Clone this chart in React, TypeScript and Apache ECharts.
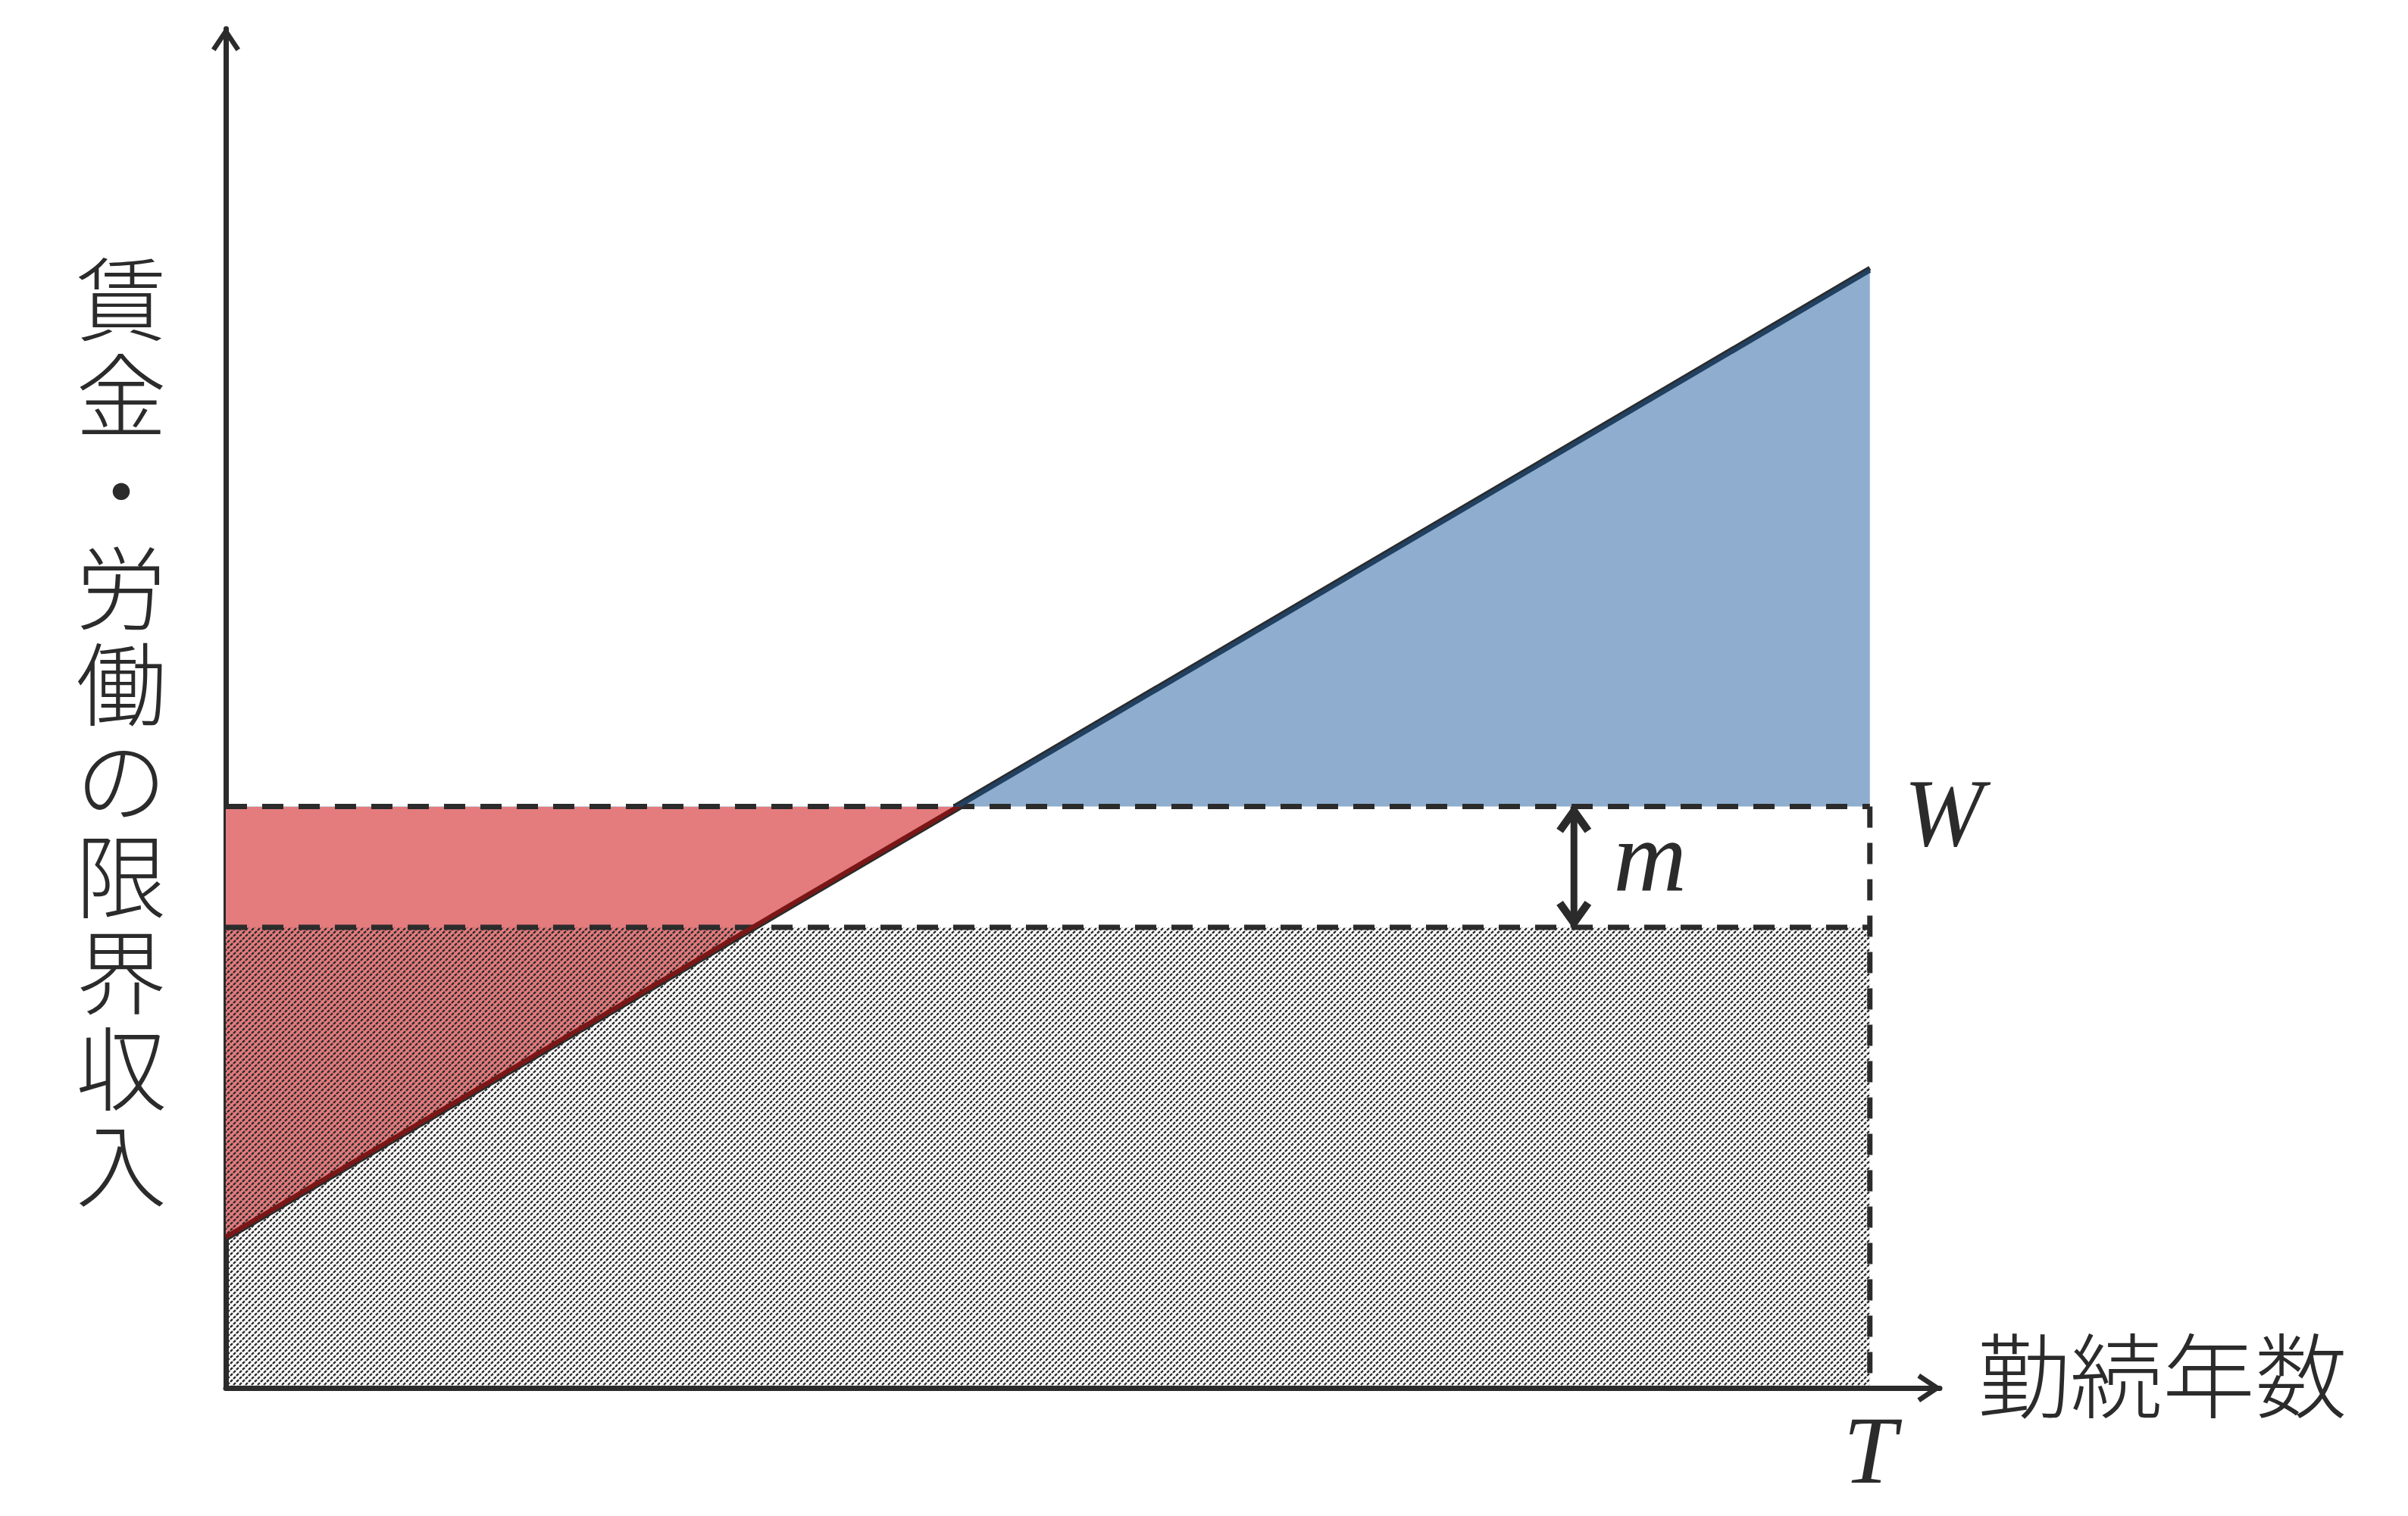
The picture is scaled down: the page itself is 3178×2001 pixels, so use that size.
import React, { useEffect, useRef } from 'react';
import * as echarts from 'echarts';

// ---- data ----
const Y_TITLE_CHARS = ['賃', '金', '・', '労', '働', 'の', '限', '界', '収', '入'];
const X_TITLE = '勤続年数';
const LABEL_T = 'T';
const LABEL_W = 'W';
const LABEL_M = 'm';
const T = 40; // tenure end
const X_MAX = 41.7;
const Y_MAX = 180;
const WAGE = 77; // W
const MARGIN = 16; // m
const MRP_X = [0, T];
const MRP_Y = [20, 148];
const M_ARROW_X = 32.8;

// ---- styles ----
const INK = '#2b2b2b';
const RED_FILL = '#E47B7D';
const BLUE_FILL = '#8EADCF';
const RED_EDGE = '#7A1517';
const BLUE_EDGE = '#203F5F';
const CLEAR = 'rgba(0,0,0,0)';
const CJK = '"Noto Sans CJK JP", "Noto Sans CJK SC", sans-serif';
const SERIF = '"Liberation Serif", "DejaVu Serif", serif';
const CHEVRON = 'path://M20,0L40,30L34.2,33.9L20,12.6L5.8,33.9L0,30Z';
const HEAVY_CHEVRON = 'path://M20,0L40,28L32.5,33L20,15.5L7.5,33L0,28Z';
const HATCH_TILE = 8;

function makeHatch(): string {
  const s = HATCH_TILE;
  const c = document.createElement('canvas');
  c.width = s;
  c.height = s;
  const ctx = c.getContext('2d')!;
  ctx.strokeStyle = INK;
  ctx.lineWidth = 2.4;
  const d = Math.SQRT2 * s;
  ctx.setLineDash([d * 0.37, d * 0.13]);
  for (const off of [-s, 0, s]) {
    ctx.beginPath();
    ctx.moveTo(off - s, 2 * s);
    ctx.lineTo(off + 2 * s, -s);
    ctx.stroke();
  }
  return c.toDataURL();
}

function splitPieces(below: string, above: string) {
  return [
    { gte: 0, lt: WAGE, color: below },
    { gte: WAGE, lte: Y_MAX, color: above },
  ];
}

function buildOption(): any {
  const hatch = makeHatch();
  const mrpData = MRP_X.map((x, i) => [x, MRP_Y[i]]);
  const lower = WAGE - MARGIN;
  const dashed = { color: INK, width: 7, type: [28, 20] as any };
  const axisLine = {
    show: true,
    onZero: true,
    lineStyle: { color: INK, width: 7 },
    symbol: ['none', CHEVRON],
    symbolSize: [38, 33],
    symbolOffset: [0, -13.5],
  };
  const cjkChar = { fontFamily: CJK, fontWeight: 300, color: INK };
  return {
    animation: false,
    backgroundColor: '#ffffff',
    grid: { left: 298, right: 618, top: 38, bottom: 169, containLabel: false, outerBoundsMode: 'none' },
    xAxis: {
      type: 'value',
      min: 0,
      max: X_MAX,
      interval: T,
      axisLine,
      axisTick: { show: false },
      splitLine: { show: false },
      axisLabel: {
        formatter: (v: number) => (Math.abs(v - T) < 1e-6 ? LABEL_T : ''),
        fontFamily: SERIF,
        fontStyle: 'italic',
        fontSize: 126,
        color: INK,
        margin: 19,
      },
      name: `{c|${X_TITLE}}\n{s|\u3000}`,
      nameLocation: 'end',
      nameGap: 50,
      nameTextStyle: {
        color: INK,
        rich: {
          c: { ...cjkChar, fontSize: 122, lineHeight: 122 },
          s: { fontSize: 10, lineHeight: 48 },
        },
      },
    },
    yAxis: {
      type: 'value',
      min: 0,
      max: Y_MAX,
      interval: 20,
      axisLine,
      axisTick: { show: false },
      splitLine: { show: false },
      axisLabel: { show: false },
      name: ['{s|\u3000}', ...Y_TITLE_CHARS.map((ch) => `{c|${ch}}`)].join('\n'),
      nameLocation: 'middle',
      nameRotate: 0,
      nameGap: 78,
      nameTextStyle: {
        color: INK,
        rich: {
          c: { ...cjkChar, fontSize: 120, lineHeight: 127 },
          s: { fontSize: 10, lineHeight: 50 },
        },
      },
    },
    visualMap: [
      { type: 'piecewise', show: false, seriesIndex: 0, dimension: 1, pieces: splitPieces(RED_FILL, BLUE_FILL) },
      { type: 'piecewise', show: false, seriesIndex: 4, dimension: 1, pieces: splitPieces(RED_EDGE, CLEAR) },
      { type: 'piecewise', show: false, seriesIndex: 5, dimension: 1, pieces: splitPieces(CLEAR, BLUE_EDGE) },
    ],
    series: [
      {
        type: 'line', name: 'mrpArea', data: mrpData, symbol: 'none', silent: true, z: 1,
        lineStyle: { opacity: 0, width: 0 },
        areaStyle: { origin: WAGE, opacity: 1 },
      },
      {
        type: 'line', name: 'hatch', data: [[0, lower], [T, lower]], symbol: 'none', silent: true, z: 2,
        lineStyle: dashed,
        areaStyle: {
          color: { image: hatch, repeat: 'repeat', imageWidth: HATCH_TILE, imageHeight: HATCH_TILE },
          opacity: 1,
          origin: 'start',
        },
      },
      {
        type: 'line', name: 'wage', data: [[0, WAGE], [T, WAGE]], symbol: 'none', silent: true, z: 3,
        lineStyle: dashed,
        endLabel: {
          show: true,
          formatter: LABEL_W,
          distance: 45,
          fontFamily: SERIF,
          fontStyle: 'italic',
          fontSize: 126,
          color: INK,
          offset: [0, 9],
        },
      },
      {
        type: 'line', name: 'tLine', data: [[T, WAGE], [T, 0]], symbol: 'none', silent: true, z: 3,
        lineStyle: dashed,
      },
      {
        type: 'line', name: 'edgeRed', data: mrpData, symbol: 'none', silent: true, z: 4,
        lineStyle: { width: 6, shadowColor: INK, shadowBlur: 0, shadowOffsetY: 3 },
      },
      {
        type: 'line', name: 'edgeBlue', data: mrpData, symbol: 'none', silent: true, z: 4,
        lineStyle: { width: 6, shadowColor: INK, shadowBlur: 0, shadowOffsetY: -3 },
      },
      {
        type: 'line', name: 'mArrow', silent: true, z: 5,
        showSymbol: true,
        data: [
          { value: [M_ARROW_X, lower], symbol: HEAVY_CHEVRON, symbolRotate: 180, symbolSize: [46, 38], symbolOffset: [0, -16] },
          { value: [M_ARROW_X, WAGE], symbol: HEAVY_CHEVRON, symbolRotate: 0, symbolSize: [46, 38], symbolOffset: [0, 16] },
        ],
        lineStyle: { color: INK, width: 9 },
        itemStyle: { color: INK, borderWidth: 0, opacity: 1 },
      },
      {
        type: 'scatter', name: 'mLabel', silent: true, z: 5,
        data: [[M_ARROW_X, WAGE - MARGIN / 2]],
        symbolSize: 0,
        itemStyle: { opacity: 1 },
        label: {
          show: true,
          position: 'right',
          distance: 52,
          formatter: LABEL_M,
          fontFamily: SERIF,
          fontStyle: 'italic',
          fontSize: 134,
          color: INK,
          opacity: 1,
          offset: [0, -14],
        },
      },
    ],
  };
}

export default function App() {
  const ref = useRef<HTMLDivElement>(null);
  useEffect(() => {
    if (!ref.current) return;
    const chart = echarts.init(ref.current, null, { renderer: 'svg' });
    chart.setOption(buildOption());
    return () => chart.dispose();
  }, []);
  return (
    <div
      ref={ref}
      style={{ position: 'fixed', left: 0, top: 0, width: 3178, height: 2001, background: '#fff' }}
    />
  );
}
